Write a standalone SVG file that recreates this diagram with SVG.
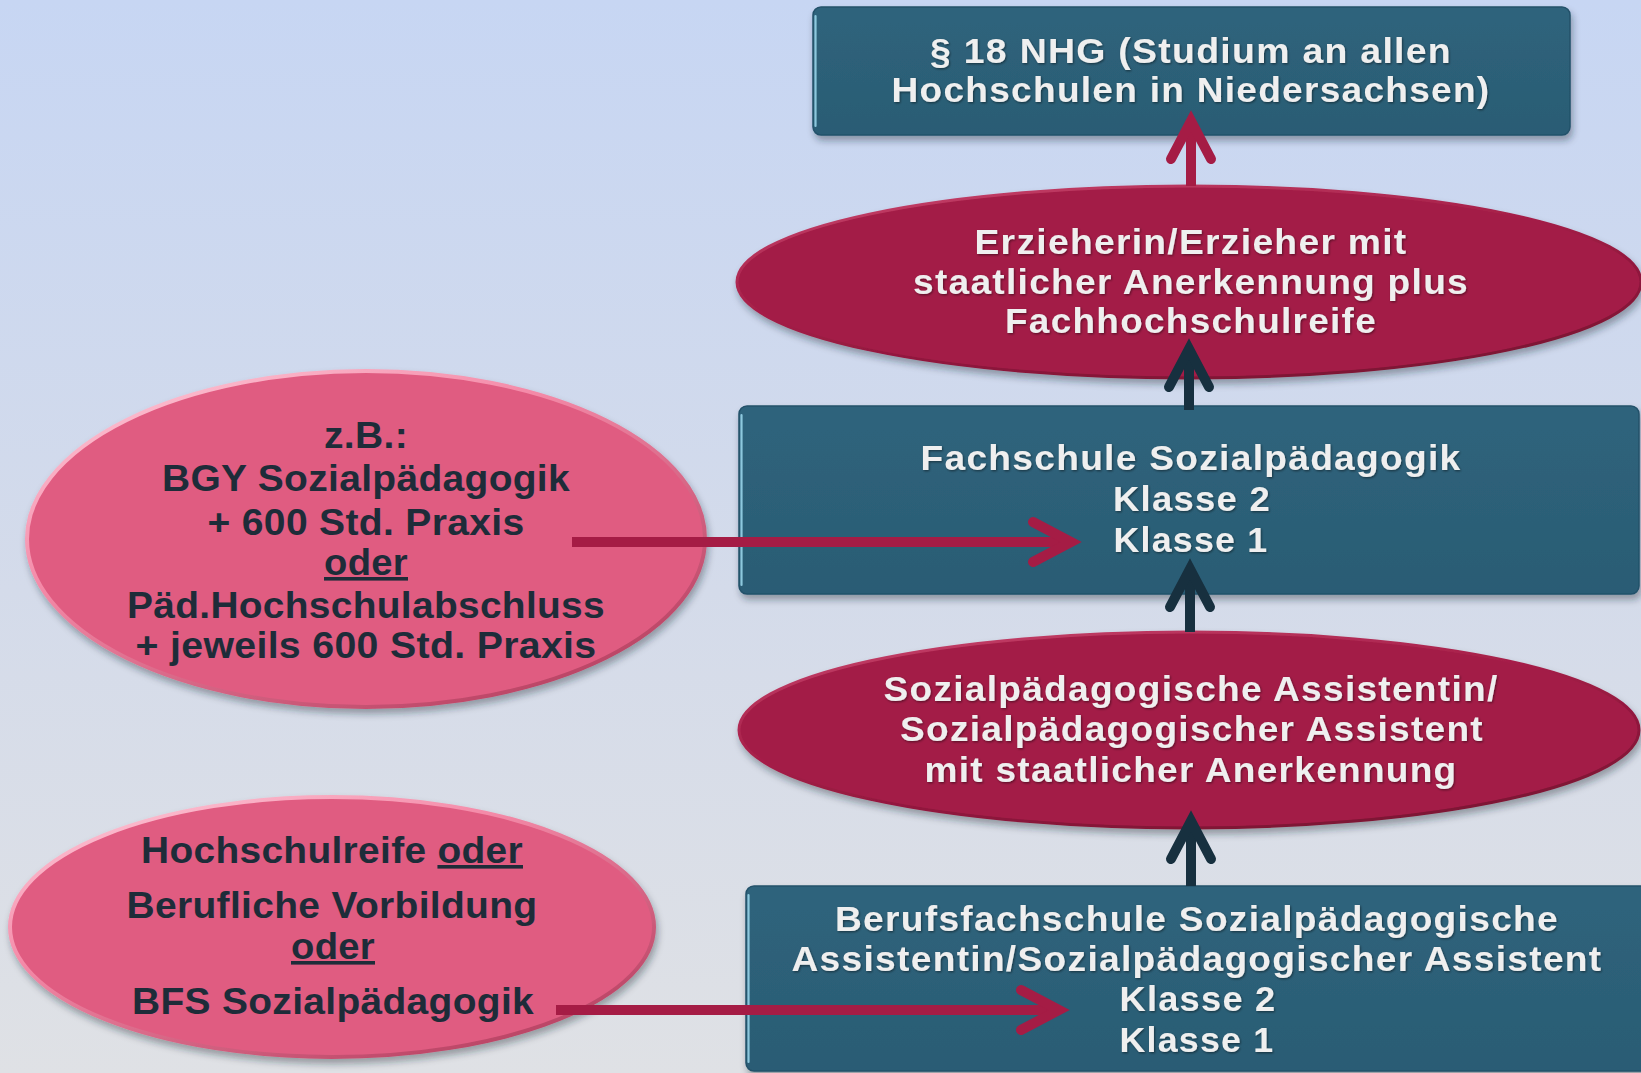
<svg xmlns="http://www.w3.org/2000/svg" width="1641" height="1073" viewBox="0 0 1641 1073">
<defs>
  <linearGradient id="bg" x1="0" y1="0" x2="0" y2="1">
    <stop offset="0" stop-color="#C7D6F3"/>
    <stop offset="0.55" stop-color="#D4DBEA"/>
    <stop offset="1" stop-color="#DFE1E5"/>
  </linearGradient>
  <linearGradient id="boxFill" x1="0" y1="0" x2="0" y2="1">
    <stop offset="0" stop-color="#2F647C"/>
    <stop offset="1" stop-color="#2A5C74"/>
  </linearGradient>
  <linearGradient id="pinkRim" x1="0" y1="0" x2="0.8" y2="1">
    <stop offset="0" stop-color="#FFD3E0"/>
    <stop offset="0.4" stop-color="#F48AA8"/>
    <stop offset="1" stop-color="#B63F60"/>
  </linearGradient>
  <linearGradient id="redRim" x1="0" y1="0" x2="0.6" y2="1">
    <stop offset="0" stop-color="#C9466E"/>
    <stop offset="0.5" stop-color="#A51E48"/>
    <stop offset="1" stop-color="#7E1234"/>
  </linearGradient>
  <filter id="shadow" x="-10%" y="-15%" width="125%" height="140%">
    <feDropShadow dx="2" dy="5" stdDeviation="3.5" flood-color="#1A2430" flood-opacity="0.38"/>
  </filter>
  <filter id="tshadow" x="-5%" y="-20%" width="110%" height="150%">
    <feDropShadow dx="1" dy="1.2" stdDeviation="0.8" flood-color="#000" flood-opacity="0.45"/>
  </filter>
  <marker id="headRed" markerUnits="userSpaceOnUse" viewBox="-50 -30 70 60" markerWidth="70" markerHeight="60" refX="0" refY="0" orient="auto" overflow="visible">
    <path d="M-38,-20 L0,0 L-38,20" fill="none" stroke="#A51C45" stroke-width="10" stroke-linecap="round" stroke-linejoin="miter"/>
  </marker>
  <marker id="headDark" markerUnits="userSpaceOnUse" viewBox="-50 -30 70 60" markerWidth="70" markerHeight="60" refX="0" refY="0" orient="auto" overflow="visible">
    <path d="M-38,-20 L0,0 L-38,20" fill="none" stroke="#17303F" stroke-width="10" stroke-linecap="round" stroke-linejoin="miter"/>
  </marker>
  <style>
    .box { fill: url(#boxFill); stroke: #23516A; stroke-width: 1.5; filter: url(#shadow); }
    .hl { fill: none; stroke: #9FDAF0; stroke-width: 2.2; stroke-linecap: round; opacity: 0.85; }
    .red { fill: #A31D46; stroke: url(#redRim); stroke-width: 3; filter: url(#shadow); }
    .pink { fill: #E05C81; stroke: url(#pinkRim); stroke-width: 4; filter: url(#shadow); }
    .wt { font-family: "Liberation Sans", Arial, sans-serif; font-weight: bold; font-size: 35px; letter-spacing: 1.2px; fill: #EFEFEF; text-anchor: middle; filter: url(#tshadow); }
    .dt { font-family: "Liberation Sans", Arial, sans-serif; font-weight: bold; font-size: 36px; letter-spacing: 0.3px; fill: #1E2C39; text-anchor: middle; }
    .u { text-decoration: underline; }
    .cr { fill: none; stroke: #A51C45; stroke-width: 10; marker-end: url(#headRed); }
    .dk { fill: none; stroke: #17303F; stroke-width: 10; marker-end: url(#headDark); }
  </style>
</defs>

<rect x="0" y="0" width="1641" height="1073" fill="url(#bg)"/>

<g id="nhg">
  <rect class="box" x="813" y="7" width="757" height="128" rx="8"/>
  <path class="hl" d="M815.5,16 V126"/>
  <text class="wt" x="1191" y="63" textLength="522" lengthAdjust="spacingAndGlyphs">§ 18 NHG (Studium an allen</text>
  <text class="wt" x="1191" y="102" textLength="599" lengthAdjust="spacingAndGlyphs">Hochschulen in Niedersachsen)</text>
</g>

<g id="erzieher">
  <ellipse class="red" cx="1189" cy="282" rx="452" ry="96"/>
  <text class="wt" x="1191" y="254" textLength="433" lengthAdjust="spacingAndGlyphs">Erzieherin/Erzieher mit</text>
  <text class="wt" x="1191" y="294" textLength="556" lengthAdjust="spacingAndGlyphs">staatlicher Anerkennung plus</text>
  <text class="wt" x="1191" y="333" textLength="372" lengthAdjust="spacingAndGlyphs">Fachhochschulreife</text>
</g>

<g id="fachschule">
  <rect class="box" x="739" y="406" width="900" height="188" rx="8"/>
  <path class="hl" d="M741.5,415 V585"/>
  <text class="wt" x="1191" y="470" textLength="541" lengthAdjust="spacingAndGlyphs">Fachschule Sozialpädagogik</text>
  <text class="wt" x="1192" y="511" textLength="158" lengthAdjust="spacingAndGlyphs">Klasse 2</text>
  <text class="wt" x="1191" y="552" textLength="155" lengthAdjust="spacingAndGlyphs">Klasse 1</text>
</g>

<g id="assistent">
  <ellipse class="red" cx="1189" cy="730" rx="450" ry="98"/>
  <text class="wt" x="1191" y="701" textLength="615" lengthAdjust="spacingAndGlyphs">Sozialpädagogische Assistentin/</text>
  <text class="wt" x="1192" y="741" textLength="584" lengthAdjust="spacingAndGlyphs">Sozialpädagogischer Assistent</text>
  <text class="wt" x="1191" y="782" textLength="533" lengthAdjust="spacingAndGlyphs">mit staatlicher Anerkennung</text>
</g>

<g id="berufsfachschule">
  <rect class="box" x="746" y="886" width="905" height="185" rx="8"/>
  <path class="hl" d="M748.5,895 V1062"/>
  <text class="wt" x="1197" y="931" textLength="724" lengthAdjust="spacingAndGlyphs">Berufsfachschule Sozialpädagogische</text>
  <text class="wt" x="1197" y="971" textLength="811" lengthAdjust="spacingAndGlyphs">Assistentin/Sozialpädagogischer Assistent</text>
  <text class="wt" x="1198" y="1011" textLength="157" lengthAdjust="spacingAndGlyphs">Klasse 2</text>
  <text class="wt" x="1197" y="1052" textLength="155" lengthAdjust="spacingAndGlyphs">Klasse 1</text>
</g>

<g id="zugang-fachschule">
  <ellipse class="pink" cx="366" cy="539" rx="339" ry="168"/>
  <text class="dt" x="366" y="448" textLength="84" lengthAdjust="spacingAndGlyphs">z.B.:</text>
  <text class="dt" x="366" y="491" textLength="408" lengthAdjust="spacingAndGlyphs">BGY Sozialpädagogik</text>
  <text class="dt" x="366" y="535" textLength="317" lengthAdjust="spacingAndGlyphs">+ 600 Std. Praxis</text>
  <text class="dt u" x="366" y="575" textLength="84" lengthAdjust="spacingAndGlyphs">oder</text>
  <text class="dt" x="366" y="618" textLength="478" lengthAdjust="spacingAndGlyphs">Päd.Hochschulabschluss</text>
  <text class="dt" x="366" y="658" textLength="461" lengthAdjust="spacingAndGlyphs">+ jeweils 600 Std. Praxis</text>
</g>

<g id="zugang-bfs">
  <ellipse class="pink" cx="332" cy="927" rx="322" ry="130"/>
  <text class="dt" x="332" y="863" textLength="382" lengthAdjust="spacingAndGlyphs">Hochschulreife <tspan class="u">oder</tspan></text>
  <text class="dt" x="332" y="918" textLength="411" lengthAdjust="spacingAndGlyphs">Berufliche Vorbildung</text>
  <text class="dt u" x="333" y="959" textLength="84" lengthAdjust="spacingAndGlyphs">oder</text>
  <text class="dt" x="333" y="1014" textLength="402" lengthAdjust="spacingAndGlyphs">BFS Sozialpädagogik</text>
</g>

<g id="connectors">
  <path class="cr" d="M1191,186 V121"/>
  <path class="dk" d="M1189,410 V349"/>
  <path class="dk" d="M1190,632 V569"/>
  <path class="dk" d="M1191,886 V821"/>
  <path class="cr" d="M572,542 H1071"/>
  <path class="cr" d="M556,1010 H1059"/>
</g>
</svg>
